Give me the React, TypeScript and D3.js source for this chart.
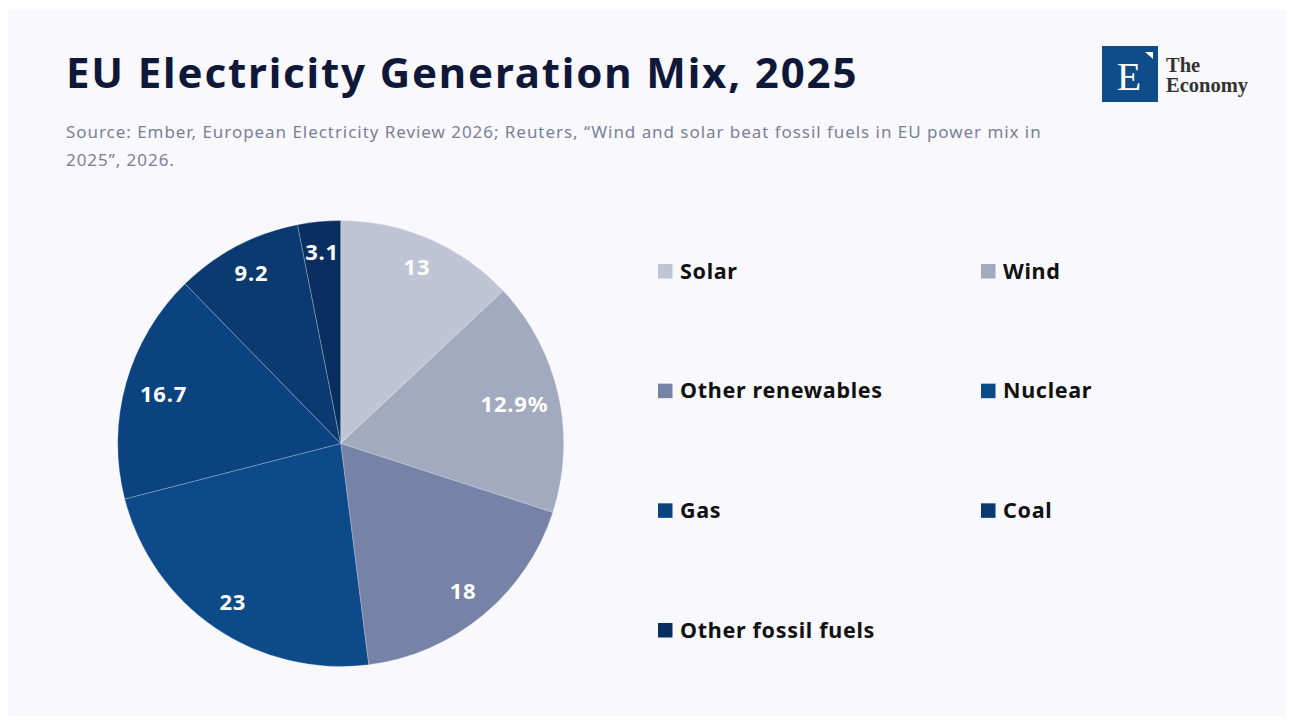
import React from "react";
import * as d3 from "d3";

const categories = ["Solar", "Wind", "Other renewables", "Nuclear", "Gas", "Coal", "Other fossil fuels"];
const values = [13, 17, 18, 23, 16.7, 9.2, 3.1];
const sliceLabels = ["13", "12.9%", "18", "23", "16.7", "9.2", "3.1"];
const colors = ["#bfc5d4", "#a2aac0", "#7683a7", "#0d4a89", "#0b4381", "#0a3a70", "#082f5f"];

const W = 1294;
const H = 724;
const FONT = "'Noto Sans', sans-serif";

export default function App() {
  const cx = 340.7;
  const cy = 443.5;
  const R = 223;
  const pie = d3.pie<number>().sort(null).value((d) => d)(values);
  const arc = d3.arc<d3.PieArcDatum<number>>().innerRadius(0).outerRadius(R);

  const labelPos = (a: d3.PieArcDatum<number>, text: string) => {
    const mid = (a.startAngle + a.endAngle) / 2;
    const hw = text.length * 6.8;
    const hh = 8;
    let r = 192;
    for (let i = 0; i < 60; i++) {
      const x = r * Math.sin(mid);
      const y = -r * Math.cos(mid);
      const corners = [
        [x - hw, y - hh], [x + hw, y - hh], [x - hw, y + hh], [x + hw, y + hh],
      ];
      const maxD = Math.max(...corners.map(([px, py]) => Math.hypot(px, py)));
      if (maxD <= R - 10) break;
      r -= 1;
    }
    return [r * Math.sin(mid), -r * Math.cos(mid)];
  };

  const legendX = d3.scalePoint<number>().domain([0, 1]).range([658, 981]);
  const legendY = d3.scalePoint<number>().domain([0, 1, 2, 3]).range([271, 630]);

  return (
    <svg width={W} height={H} style={{ display: "block", position: "absolute", left: 0, top: 0 }}>
      <rect x={0} y={0} width={W} height={H} fill="#ffffff" />
      <rect x={8} y={10} width={1278} height={706} fill="#f8f8fd" />
      <text x={66} y={88} fontFamily={FONT} fontWeight={700} fontSize={42} letterSpacing={1.85} fill="#0f1839">
        EU Electricity Generation Mix, 2025
      </text>
      <text fontFamily={FONT} fontSize={17} letterSpacing={0.95} fill="#7b8195">
        <tspan x={66} y={138}>Source: Ember, European Electricity Review 2026; Reuters, “Wind and solar beat fossil fuels in EU power mix in</tspan>
        <tspan x={66} y={166}>2025”, 2026.</tspan>
      </text>

      {/* logo */}
      <rect x={1102} y={46} width={56} height={56} fill="#0f4c8a" />
      <text x={1129} y={90} textAnchor="middle" fontFamily="'Liberation Serif', 'DejaVu Serif', serif" fontSize={40} fill="#ffffff">E</text>
      <path d="M1145,52 L1153,52 L1153,59 Z" fill="#ffffff" />
      <text fontFamily="'Liberation Serif', 'DejaVu Serif', serif" fontWeight={700} fontSize={20.5} fill="#333333">
        <tspan x={1166} y={72}>The</tspan>
        <tspan x={1166} y={92}>Economy</tspan>
      </text>

      <g transform={`translate(${cx},${cy})`}>
        {pie.map((a, i) => (
          <path key={i} d={arc(a) || ""} fill={colors[i]} stroke="#f8f8fd" strokeOpacity={0.35} strokeWidth={0.7} />
        ))}
        {pie.map((a, i) => {
          const [x, y] = labelPos(a, sliceLabels[i]);
          return (
            <text key={i} x={x} y={y} dy="0.35em" textAnchor="middle" fontFamily={FONT} fontWeight={700} fontSize={22} letterSpacing={0.8} fill="#ffffff">
              {sliceLabels[i]}
            </text>
          );
        })}
      </g>

      {categories.map((c, i) => {
        const col = i % 2;
        const row = Math.floor(i / 2);
        const x = legendX(col) as number;
        const y = legendY(row) as number;
        return (
          <g key={c}>
            <rect x={x} y={y - 7} width={14.5} height={14.5} fill={colors[i]} />
            <text x={x + 22} y={y} dy="0.35em" fontFamily={FONT} fontWeight={700} fontSize={21.5} letterSpacing={0.7} fill="#111111">
              {c}
            </text>
          </g>
        );
      })}
    </svg>
  );
}
